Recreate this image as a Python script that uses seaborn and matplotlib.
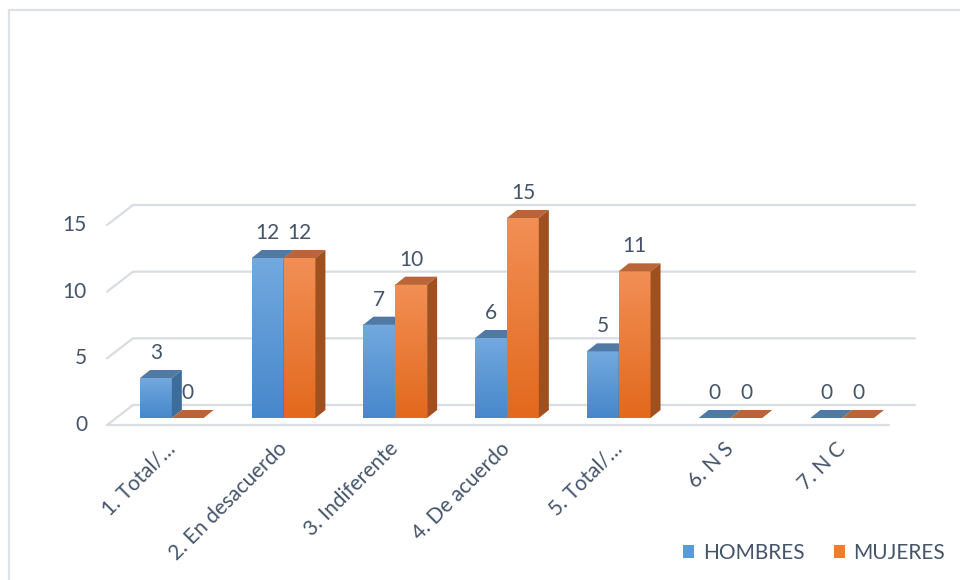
import numpy as np
import pandas as pd
import matplotlib
matplotlib.use("Agg")
import matplotlib.pyplot as plt
import seaborn as sns
from matplotlib.patches import Polygon, Patch
from matplotlib.lines import Line2D
from matplotlib.transforms import IdentityTransform
from matplotlib.colors import LinearSegmentedColormap

# ---- data ----
categories = ["1. Total/…", "2. En desacuerdo", "3. Indiferente", "4. De acuerdo",
              "5. Total/…", "6. N S", "7. N C"]
hombres = [3, 12, 7, 6, 5, 0, 0]
mujeres = [0, 12, 10, 15, 11, 0, 0]
series = ["HOMBRES", "MUJERES"]
y_ticks = [0, 5, 10, 15]

df = pd.DataFrame({
    "categoria": categories * 2,
    "grupo": [series[0]] * len(categories) + [series[1]] * len(categories),
    "valor": hombres + mujeres,
})

# ---- style ----
sns.set_theme(style="white")
plt.rcParams["font.family"] = ["Lato", "DejaVu Sans"]

TEXT = "#44546A"
GRID = "#D9DCE3"
FS = 15

styles = {
    "HOMBRES": dict(base="#5B9BD5", light="#72A9DF", dark="#4787CB",
                    top="#5079A5", side="#3E6D9B"),
    "MUJERES": dict(base="#ED7D31", light="#F28F55", dark="#E2691D",
                    top="#BA6537", side="#9E501E"),
}

# pseudo-3D depth offsets (pixels)
BAR_D = np.array([10, 8])
FLOOR_FRONT = np.array([-9, -7])
FLOOR_BACK = np.array([17, 13])

fig = plt.figure(figsize=(9.6, 5.8), dpi=100)
fig.patch.set_facecolor("white")
ax = fig.add_axes([116 / 960, 162 / 580, 782 / 960, 200 / 580])

sns.barplot(data=df, x="categoria", y="valor", hue="grupo", order=categories,
            hue_order=series, palette=[styles[s]["base"] for s in series],
            width=0.57, saturation=1, legend=False, ax=ax)

ax.set_xlim(-0.5, len(categories) - 0.5)
ax.set_ylim(0, 15)
ax.patch.set_visible(False)
for sp in ax.spines.values():
    sp.set_visible(False)
ax.set_xlabel("")
ax.set_ylabel("")
ax.set_yticks([])

px = IdentityTransform()
to_px = ax.transData.transform

# back wall gridlines, floor and value axis labels
x_lo, x_hi = ax.get_xlim()
for v in y_ticks:
    p0 = to_px((x_lo, v))
    p1 = to_px((x_hi, v))
    a, b, c = p0 + FLOOR_FRONT, p0 + FLOOR_BACK, p1 + FLOOR_BACK
    ax.add_line(Line2D([a[0], b[0], c[0]], [a[1], b[1], c[1]], transform=px,
                       color=GRID, lw=1.6, zorder=0.5, clip_on=False))
    if v == 0:
        d = p1 + FLOOR_FRONT
        ax.add_line(Line2D([a[0], d[0]], [a[1], d[1]], transform=px,
                           color=GRID, lw=1.6, zorder=0.5, clip_on=False))
    ax.text(a[0] - 20, a[1], str(v), transform=px, ha="right", va="center",
            fontsize=FS, color=TEXT)

# bars with front gradient, top and side faces
grad = np.linspace(0, 1, 256).reshape(-1, 1)
for k, (name, cont) in enumerate(zip(series, ax.containers)):
    st = styles[name]
    cmap = LinearSegmentedColormap.from_list(name, [st["dark"], st["light"]])
    z = 2 + k
    for bar in cont.patches:
        x, w, h = bar.get_x(), bar.get_width(), bar.get_height()
        bar.set_visible(False)
        if h > 0:
            ax.imshow(grad, extent=(x, x + w, 0, h), origin="lower",
                      aspect="auto", cmap=cmap, zorder=z, interpolation="bilinear")
        fl, fr = to_px((x, h)), to_px((x + w, h))
        br = to_px((x + w, 0))
        ax.add_patch(Polygon([fl, fr, fr + BAR_D, fl + BAR_D], closed=True,
                             transform=px, facecolor=st["top"], edgecolor="none",
                             zorder=z + 0.1, clip_on=False))
        if h > 0:
            ax.add_patch(Polygon([br, fr, fr + BAR_D, br + BAR_D], closed=True,
                                 transform=px, facecolor=st["side"], edgecolor="none",
                                 zorder=z + 0.1, clip_on=False))
        ax.annotate(f"{h:g}", (x + w / 2, h), xytext=(0, 25),
                    textcoords="offset pixels", ha="center", va="center",
                    fontsize=FS, color=TEXT, annotation_clip=False)

ax.set_xlim(x_lo, x_hi)
ax.set_ylim(0, 15)

ax.set_xticks(range(len(categories)))
ax.set_xticklabels(categories, rotation=45, ha="right", va="center",
                   rotation_mode="anchor")
ax.tick_params(axis="x", length=0, pad=20, labelsize=FS, colors=TEXT)

# legend
handles = [Patch(facecolor=styles[s]["base"], edgecolor="none") for s in series]
fig.legend(handles, series, loc="center", bbox_to_anchor=(814 / 960, 27 / 580),
           ncol=2, frameon=False, fontsize=FS, labelcolor=TEXT,
           handlelength=0.55, handleheight=0.55, handletextpad=0.4,
           columnspacing=1.4)

# chart area border
fig.add_artist(Line2D([9, 960], [570, 570], transform=px, color="#DDE1E8", lw=1.6))
fig.add_artist(Line2D([9, 9], [0, 570], transform=px, color="#DDE1E8", lw=1.6))

fig.savefig("out.png", dpi=100)
